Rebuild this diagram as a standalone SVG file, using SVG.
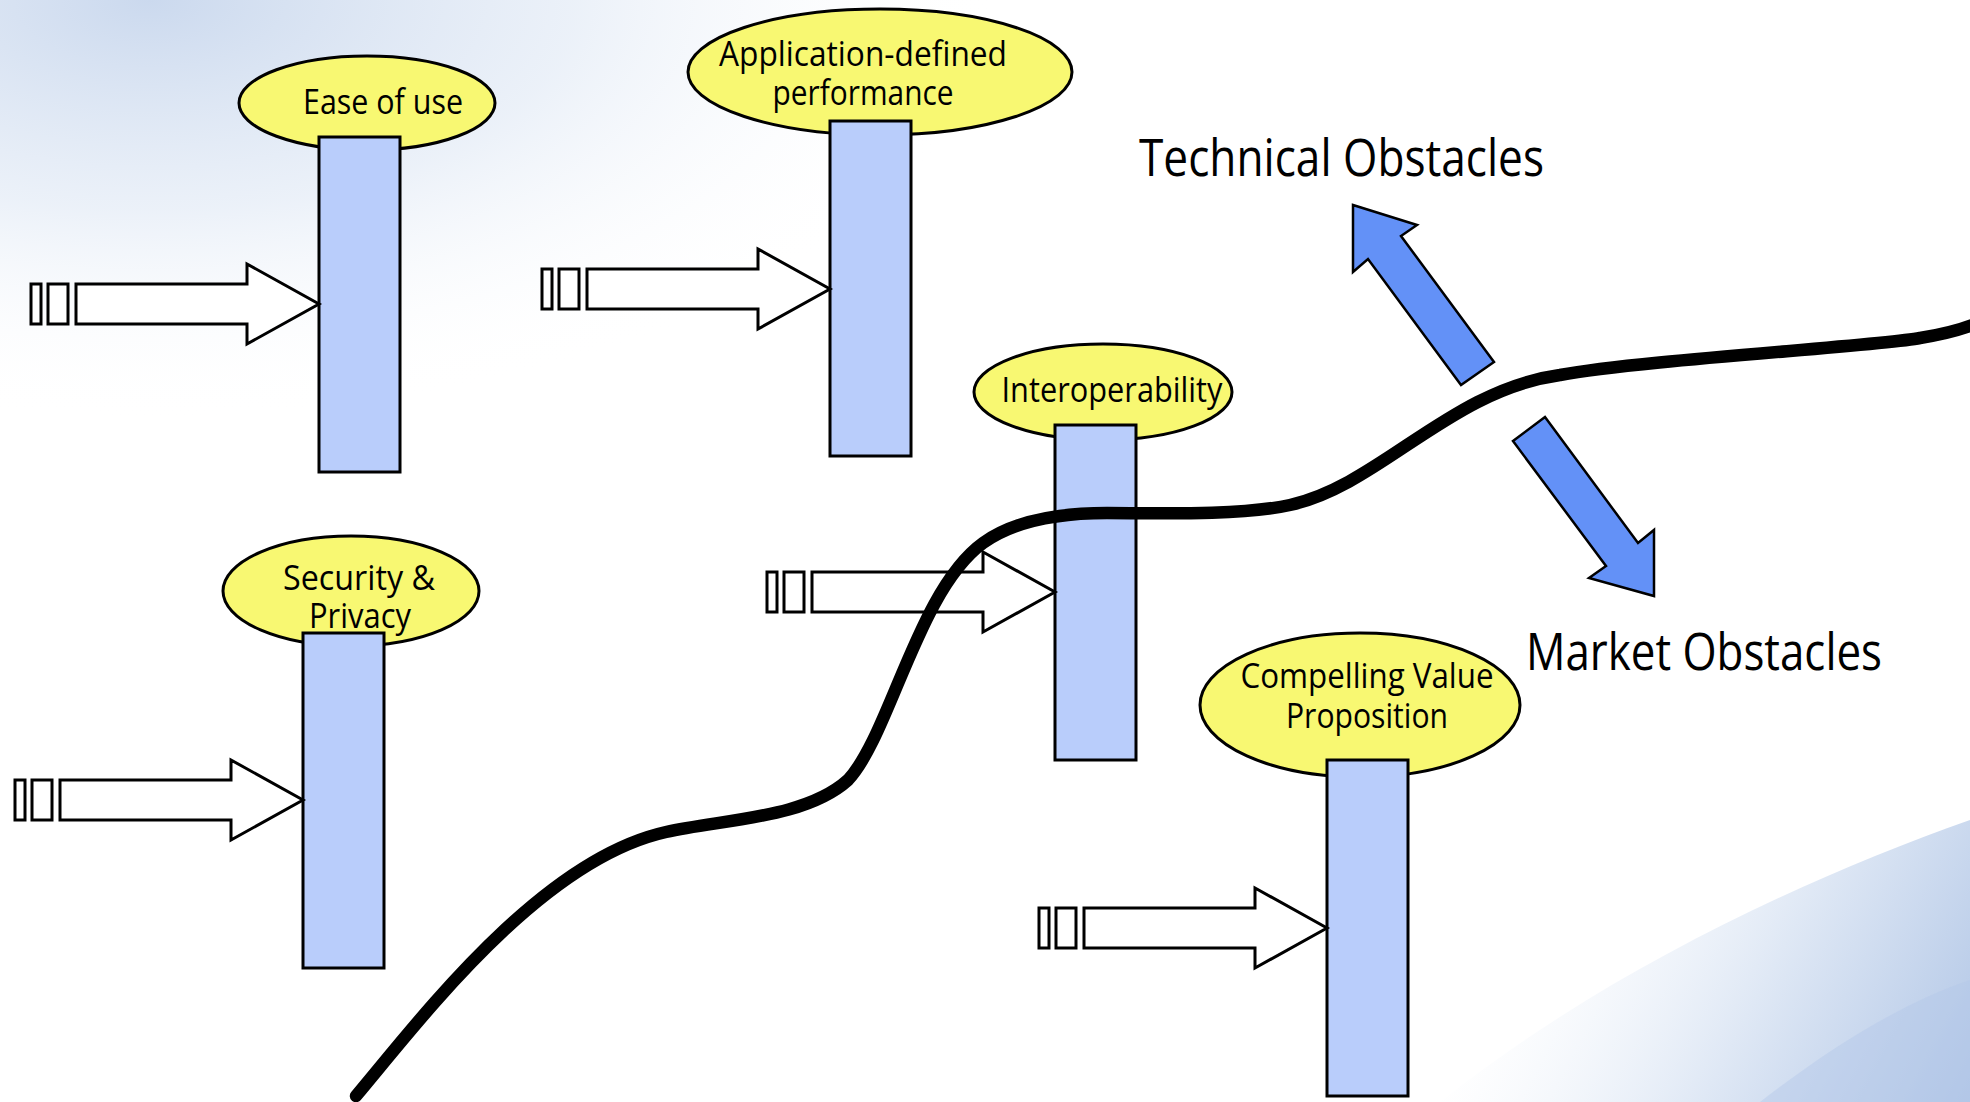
<svg xmlns="http://www.w3.org/2000/svg" xmlns:xlink="http://www.w3.org/1999/xlink" width="1970" height="1102" viewBox="0 0 1970 1102">
  <style>
    .oval { fill: #f8f872; stroke: #000; stroke-width: 3; }
    .bar { fill: #b9cdfb; stroke: #000; stroke-width: 3; }
    .lbl { font-family: "Open Sans", "Liberation Sans", sans-serif; font-size: 34px; fill: #000; text-anchor: middle; }
    .big { font-family: "Open Sans", "Liberation Sans", sans-serif; font-size: 51px; fill: #000; }
    .feed { fill: #fff; stroke: #000; stroke-width: 3; stroke-linejoin: miter; }
    .dir { fill: #6391f7; stroke: #000; stroke-width: 2.5; stroke-linejoin: miter; }
    .curve { fill: none; stroke: #000; stroke-width: 12.5; stroke-linecap: round; stroke-linejoin: round; }
  </style>
  <defs>
    <radialGradient id="tl" cx="150" cy="0" r="1" gradientUnits="userSpaceOnUse" gradientTransform="translate(150,0) scale(850,420) translate(-150,0)">
      <stop offset="0" stop-color="#cbd9ee" stop-opacity="1"/>
      <stop offset="0.5" stop-color="#e3ebf6" stop-opacity="0.7"/>
      <stop offset="1" stop-color="#ffffff" stop-opacity="0"/>
    </radialGradient>
    <linearGradient id="br" x1="1550" y1="880" x2="1970" y2="1102" gradientUnits="userSpaceOnUse">
      <stop offset="0" stop-color="#eef3fa" stop-opacity="0"/>
      <stop offset="0.5" stop-color="#dfe8f5"/>
      <stop offset="1" stop-color="#b1c6e6"/>
    </linearGradient>
    <g id="feedArrow">
      <rect class="feed" x="-288" y="-20" width="10" height="40"/>
      <rect class="feed" x="-271" y="-20" width="20" height="40"/>
      <polygon class="feed" points="-243,-20 -72,-20 -72,-40 0,0 -72,40 -72,20 -243,20"/>
    </g>
  </defs>

  <g id="background">
    <rect x="0" y="0" width="1970" height="1102" fill="#ffffff"/>
    <ellipse cx="150" cy="0" rx="850" ry="420" fill="url(#tl)"/>
    <path d="M1440,1102 C1600,975 1800,880 1970,820 L1970,1102 Z" fill="url(#br)"/>
    <path d="M1760,1102 C1840,1040 1910,1000 1970,980 L1970,1102 Z" fill="#b3c8e8" opacity="0.45"/>
  </g>

  <g id="node-ease">
    <ellipse class="oval" cx="367" cy="103" rx="128" ry="47"/>
    <text class="lbl" x="383" y="114" textLength="160" lengthAdjust="spacingAndGlyphs">Ease of use</text>
    <rect class="bar" x="319" y="137" width="81" height="335"/>
    <use href="#feedArrow" xlink:href="#feedArrow" x="319" y="304"/>
  </g>

  <g id="node-performance">
    <ellipse class="oval" cx="880" cy="72" rx="192" ry="63"/>
    <text class="lbl" x="863" y="66" textLength="288" lengthAdjust="spacingAndGlyphs">Application-defined</text>
    <text class="lbl" x="863" y="105" textLength="181" lengthAdjust="spacingAndGlyphs">performance</text>
    <rect class="bar" x="830" y="121" width="81" height="335"/>
    <use href="#feedArrow" xlink:href="#feedArrow" x="830" y="289"/>
  </g>

  <g id="node-interoperability">
    <ellipse class="oval" cx="1103" cy="392" rx="129" ry="48"/>
    <text class="lbl" x="1112" y="402" textLength="221" lengthAdjust="spacingAndGlyphs">Interoperability</text>
    <rect class="bar" x="1055" y="425" width="81" height="335"/>
    <use href="#feedArrow" xlink:href="#feedArrow" x="1055" y="592"/>
  </g>

  <g id="node-security">
    <ellipse class="oval" cx="351" cy="591" rx="128" ry="55"/>
    <text class="lbl" x="359" y="590" textLength="152" lengthAdjust="spacingAndGlyphs">Security &amp;</text>
    <text class="lbl" x="360" y="628" textLength="102" lengthAdjust="spacingAndGlyphs">Privacy</text>
    <rect class="bar" x="303" y="633" width="81" height="335"/>
    <use href="#feedArrow" xlink:href="#feedArrow" x="303" y="800"/>
  </g>

  <g id="node-value">
    <ellipse class="oval" cx="1360" cy="705" rx="160" ry="72"/>
    <text class="lbl" x="1367" y="688" textLength="253" lengthAdjust="spacingAndGlyphs">Compelling Value</text>
    <text class="lbl" x="1367" y="728" textLength="162" lengthAdjust="spacingAndGlyphs">Proposition</text>
    <rect class="bar" x="1327" y="760" width="81" height="336"/>
    <use href="#feedArrow" xlink:href="#feedArrow" x="1327" y="928"/>
  </g>

  <g id="node-technical">
    <text class="big" x="1139" y="176" textLength="405" lengthAdjust="spacingAndGlyphs">Technical Obstacles</text>
    <polygon class="dir" points="1353,205 1417,225 1401,236 1494,362 1461,385 1368,259 1353,272"/>
  </g>

  <g id="node-market">
    <text class="big" x="1526" y="670" textLength="356" lengthAdjust="spacingAndGlyphs">Market Obstacles</text>
    <polygon class="dir" points="1513,441 1545,417 1638,543 1654,530 1654,596 1589,578 1606,566"/>
  </g>

  <g id="connectors">
    <path class="curve" d="M356,1096 C420,1020 540,860 666,832 C726,819 806,818 848,780 C890,735 918,590 983,543 C1018,518 1070,513 1107,513 C1150,513 1240,516 1290,505 C1380,485 1450,390 1560,375 C1640,360 1880,346 1920,338 C1945,334 1960,330 1975,324"/>
  </g>
</svg>
